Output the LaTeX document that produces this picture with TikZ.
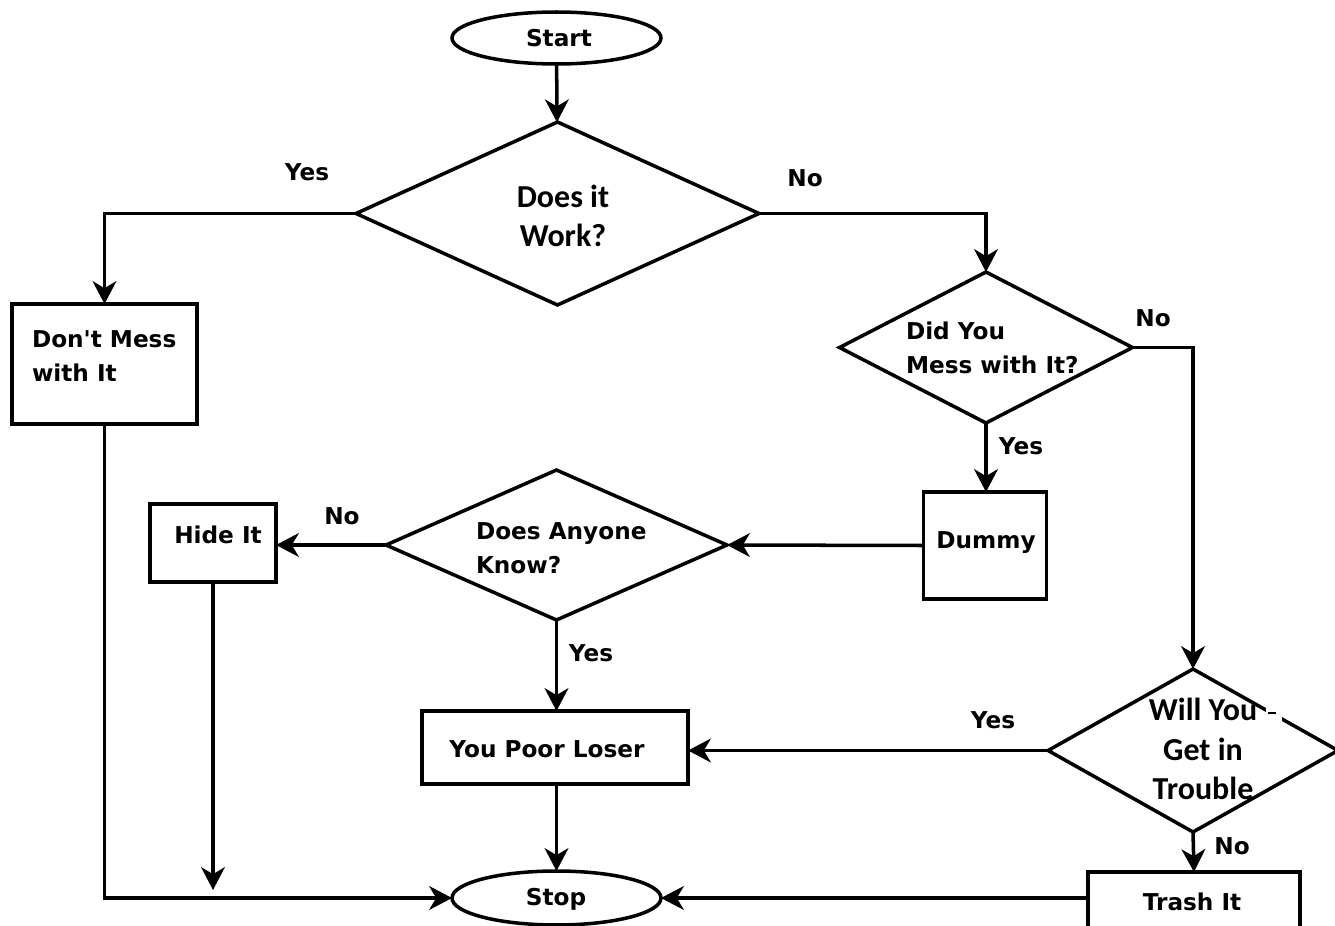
\documentclass[tikz,border=0pt]{standalone}
\usepackage{fontspec}
\newfontfamily\djv{DejaVu Sans}
\newfontfamily\calfont{Carlito}
\usetikzlibrary{shapes.geometric,arrows.meta}

\begin{document}
\begin{tikzpicture}[x=0.02cm,y=-0.02cm,
  every node/.style={inner sep=0pt, outer sep=0pt},
  box/.style={draw, line width=2pt, rectangle, fill=white},
  oval/.style={draw, line width=2pt, ellipse},
  decision/.style={draw, line width=2pt, diamond},
  txt/.style={font=\djv\bfseries\fontsize{13.2}{19.3}\selectfont, text=black},
  bigtxt/.style={font=\calfont\bfseries\fontsize{18.2}{22.4}\selectfont, align=center},
  flow/.style={line width=2pt, -{Stealth[length=13pt,width=13.5pt,inset=4pt]}},
  link/.style={line width=2pt}
]
\useasboundingbox (0,0) rectangle (1335,926);

% shapes
\node[oval, minimum width=4.18cm, minimum height=1.04cm] (start) at (556.5,38) {};
\node[decision, minimum width=8.06cm, minimum height=3.66cm] (work) at (557.5,213.5) {};
\node[box, minimum width=3.70cm, minimum height=2.40cm] (dont) at (104.5,364) {};
\node[decision, minimum width=5.86cm, minimum height=3.02cm] (mess) at (986,347.5) {};
\node[box, minimum width=2.46cm, minimum height=2.14cm] (dummy) at (985,545.5) {};
\node[decision, minimum width=6.82cm, minimum height=3.00cm] (anyone) at (556.5,545) {};
\node[box, minimum width=2.52cm, minimum height=1.56cm] (hide) at (213,543) {};
\node[box, minimum width=5.32cm, minimum height=1.46cm] (loser) at (555,747.5) {};
\node[oval, minimum width=4.18cm, minimum height=1.08cm] (stop) at (556.5,898) {};
\node[decision, minimum width=5.80cm, minimum height=3.26cm] (trouble) at (1193,750.5) {};
\node[box, minimum width=4.24cm, minimum height=1.40cm] (trash) at (1194,907) {};
\coordinate (hideend) at (213,890);

% broken stroke on the upper right edge of the last decision
\fill[white] (1266,700) rectangle (1282,722);
\draw[line width=1.5pt] (1268,713) -- (1276,713);

% texts
\node[txt] at (559,38) {Start};
\node[bigtxt] at (563,216) {Does it\\Work?};
\node[txt, align=left, anchor=west] at (32,356) {Don't Mess\\with It};
\node[txt, align=left, anchor=west] at (906,348) {Did You\\Mess with It?};
\node[txt] at (986,543) {Dummy};
\node[txt, align=left, anchor=west] at (476,548) {Does Anyone\\Know?};
\node[txt] at (218,535) {Hide It};
\node[txt] at (547,749) {You Poor Loser};
\node[txt] at (556,899) {Stop};
\node[bigtxt] at (1203,749) {Will You\\Get in\\Trouble};
\node[txt] at (1192,902) {Trash It};

% branch labels
\node[txt] at (307,172) {Yes};
\node[txt] at (805,178) {No};
\node[txt] at (1153,318) {No};
\node[txt] at (1021,446) {Yes};
\node[txt] at (342,516) {No};
\node[txt] at (591,653) {Yes};
\node[txt] at (993,720) {Yes};
\node[txt] at (1232,846) {No};

% connectors
\draw[flow] (start) -- (work);
\draw[flow] (work.west) -| (dont.north);
\draw[flow] (work.east) -| (mess.north);
\draw[flow] (mess.east) -| (trouble.north);
\draw[flow] (mess.south) -- (mess.south |- dummy.north);
\draw[flow] (dummy.west) -- (anyone.east);
\draw[flow] (anyone.west) -- (anyone.west -| hide.east);
\draw[flow] (anyone.south) -- (anyone.south |- loser.north);
\draw[flow] (loser.south -| stop.north) -- (stop.north);
\draw[flow] (hide.south) -- (hideend);
\draw[flow] (dont.south) |- (stop.west);
\draw[flow] (trouble.west) -- (trouble.west -| loser.east);
\draw[flow] (trouble.south) -- (trash.north);
\draw[flow] (trash.west |- stop.east) -- (stop.east);
\end{tikzpicture}
\end{document}
